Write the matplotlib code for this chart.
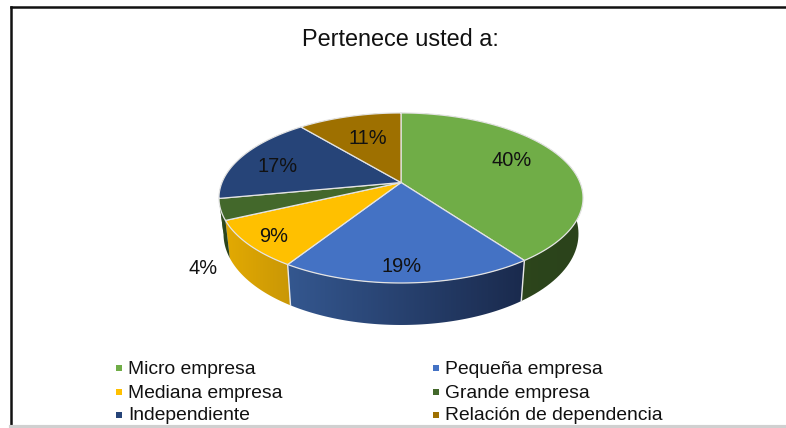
import numpy as np
import matplotlib
matplotlib.use("Agg")
import matplotlib.pyplot as plt
from matplotlib.colors import LinearSegmentedColormap
from matplotlib.patches import Polygon

plt.rcParams['font.family'] = ['Liberation Sans', 'DejaVu Sans']

title = "Pertenece usted a:"
categories = ["Micro empresa", "Pequeña empresa", "Mediana empresa",
              "Grande empresa", "Independiente", "Relación de dependencia"]
values = [40, 19, 9, 4, 17, 11]
colors = ["#70AD47", "#4472C4", "#FFC000", "#43682B", "#264478", "#9E7000"]

# wall shading, left to right
wall_colors = [("#2F4A1E", "#2B431B"), ("#34578F", "#1A2A4D"), ("#E3AA02", "#C99706"),
               ("#2F4A1E", "#2B431B"), ("#2F4A1E", "#2F4A1E"), ("#6E4E00", "#6E4E00")]

# pie geometry in pixels, the tilt is a perspective map of the circle
cx, cy = 401, 182.5
a, b, k = 179, 82.2, -0.182
base_scale = 0.975


def rim(frac):
    ang = 2 * np.pi * np.asarray(frac)
    u, v = np.sin(ang), -np.cos(ang)
    w = 1 + k * v
    return cx + a * u / w, cy + b * v / w


def base(frac):
    # lower rim is a bit narrower and the wall gets shorter towards the sides
    x, y = rim(frac)
    v = -np.cos(2 * np.pi * np.asarray(frac))
    return cx + base_scale * (x - cx), y + 34.5 + 7.5 * v


fig = plt.figure(figsize=(7.86, 4.28), dpi=100)
ax = fig.add_axes([0, 0, 1, 1])
ax.set_xlim(0, 786)
ax.set_ylim(428, 0)
ax.axis("off")

edges = np.cumsum([0] + values) / sum(values)

# side walls first, the top face covers the hidden part
for i in range(len(values)):
    t = np.linspace(edges[i], edges[i + 1], 80)
    x, y = rim(t)
    xb, yb = base(t)
    xs = np.concatenate([x, xb[::-1]])
    ys = np.concatenate([y, yb[::-1]])
    poly = Polygon(np.column_stack([xs, ys]), closed=True, fc="none", ec="none", transform=ax.transData)
    ax.add_patch(poly)
    cmap = LinearSegmentedColormap.from_list("w", wall_colors[i])
    grad = np.linspace(0, 1, 128).reshape(1, -1)
    im = ax.imshow(grad, cmap=cmap, extent=[xs.min(), xs.max(), ys.max(), ys.min()],
                   aspect="auto", zorder=1)
    im.set_clip_path(poly)

ax.set_xlim(0, 786)
ax.set_ylim(428, 0)

# seams between the visible walls
for f in edges[1:3]:
    x, y = rim(f)
    xb, yb = base(f)
    ax.plot([x, xb], [y, yb], color="#E8E8E8", lw=1, zorder=2)

# top face
for i in range(len(values)):
    t = np.linspace(edges[i], edges[i + 1], 120)
    x, y = rim(t)
    ax.fill(np.r_[cx, x], np.r_[cy, y], fc=colors[i], ec="#E4E4E4", lw=0.9, zorder=3, joinstyle="round")

# percent labels
label_pos = [(512, 160), (402, 267), (274, 236), (203, 269), (278, 166), (368, 138)]
for val, (lx, ly) in zip(values, label_pos):
    ax.text(lx, ly, "%d%%" % val, fontsize=14.4, color="#111111", ha="center", va="center", zorder=4)

ax.text(400, 39, title, fontsize=16.9, color="#111111", ha="center", va="center")

# legend, two columns
col_x = [118, 435]
row_y = [368, 392, 415]
for i, name in enumerate(categories):
    mx = col_x[i % 2]
    my = row_y[i // 2]
    ax.scatter([mx + 1], [my], marker="s", s=14, color=colors[i], linewidths=0, zorder=4)
    ax.text(mx + 10, my + 1, name, fontsize=13.85, color="#111111", ha="left", va="center")

# chart frame from the screenshot
ax.plot([11, 11], [7, 424], color="#111111", lw=1.8, clip_on=False)
ax.plot([11, 786], [7, 7], color="#111111", lw=1.8, clip_on=False)
ax.plot([11, 786], [426.5, 426.5], color="#D0D0D0", lw=3)

fig.savefig("out.png", dpi=100)
